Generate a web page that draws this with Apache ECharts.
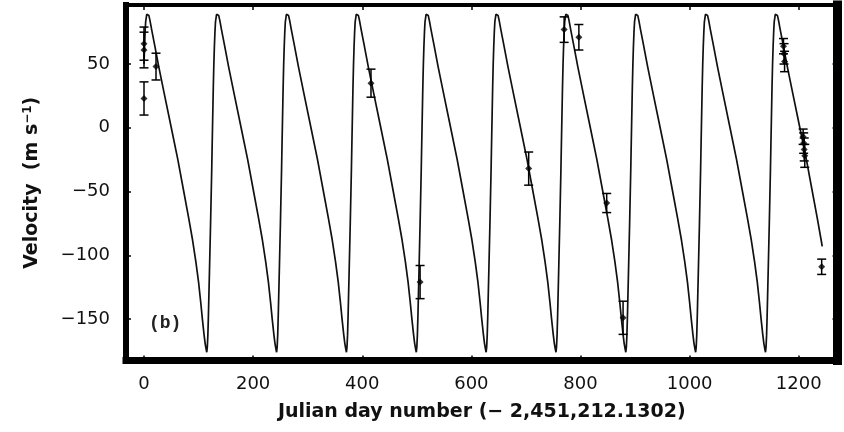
<!DOCTYPE html>
<html>
<head>
<meta charset="utf-8">
<script src="https://cdn.jsdelivr.net/npm/echarts@6/dist/echarts.min.js"></script>
<style>
  html, body { margin: 0; padding: 0; background: #fff; }
  #chart { width: 844px; height: 432px; }
</style>
</head>
<body>
<div id="chart"></div>
<script>
// one orbit of the fitted curve: days from peak, velocity
const shapeDays = [-19, -18, -17, -15, -13, -11, -10, -9, -8, -7, -6, -5, -4, -2,
  0, 2, 4, 7, 12, 20, 30, 43, 55, 65, 75, 82, 88, 93, 97, 100, 103, 105, 107, 108];
const shapeVel = [-172, -163, -148, -112, -75, -35, -12, 10, 32, 50, 64, 75, 83, 89,
  90, 88, 84, 77, 66, 48, 27, 0, -25, -48, -71, -88, -105, -121, -137, -150, -162, -169, -174, -176];
// day of each velocity maximum
const peakDays = [7, 135, 263, 391, 519, 647, 775, 903, 1031, 1159];
const curveStart = 0;
const curveEnd = [1243, -93];

// measurements with error bars
const obsDay = [0, 0, 0, 22, 416, 506, 705, 770, 797, 848, 878,
  1172, 1173, 1174, 1208, 1209, 1210, 1211, 1242];
const obsVel = [66, 61, 23, 48, 35, -121, -32, 77, 71, -59, -149,
  64, 58, 52, -7, -12, -17, -22, -109];
const obsErr = [13, 14, 13, 10.5, 11, 13, 13, 10, 10, 7.5, 13,
  6, 8, 8, 6, 8, 9, 9, 6];

const xTicks = [0, 200, 400, 600, 800, 1000, 1200];
const yTicks = [-150, -100, -50, 0, 50];

const curve = [];
peakDays.forEach(p => {
  shapeDays.forEach((d, i) => {
    const t = p + d;
    if (t >= curveStart && t < curveEnd[0]) curve.push([t, shapeVel[i]]);
  });
});
curve.push(curveEnd);

const obs = obsDay.map((d, i) => [d, obsVel[i], obsErr[i]]);

const font = '"DejaVu Sans", Verdana, sans-serif';
const fmt = v => (v < 0 ? '\u2212' + Math.abs(v) : String(v));
const chart = echarts.init(document.getElementById('chart'));

const xBase = {
  type: 'value', min: -33, max: 1271,
  splitLine: { show: false },
  axisTick: { inside: true, length: 5, lineStyle: { color: '#000', width: 1.5 }, customValues: xTicks }
};
const yBase = {
  type: 'value', min: -182.5, max: 96.3,
  splitLine: { show: false },
  axisTick: { inside: true, length: 5, lineStyle: { color: '#000', width: 1.5 }, customValues: yTicks }
};

chart.setOption({
  animation: false,
  backgroundColor: '#fff',
  grid: { left: 126, right: 6.5, top: 5, bottom: 71.5 },
  xAxis: [
    Object.assign({}, xBase, {
      position: 'bottom',
      axisLine: { onZero: false, lineStyle: { color: '#000', width: 7, cap: 'square' } },
      axisLabel: { customValues: xTicks, formatter: fmt, margin: 15, fontSize: 18, color: '#111', fontFamily: font },
      name: 'Julian day number (\u2212 2,451,212.1302)',
      nameLocation: 'middle', nameGap: 42,
      nameTextStyle: { fontSize: 19, fontWeight: 'bold', color: '#111', fontFamily: font }
    }),
    Object.assign({}, xBase, {
      position: 'top',
      axisLine: { onZero: false, lineStyle: { color: '#000', width: 4, cap: 'square' } },
      axisLabel: { show: false }
    })
  ],
  yAxis: [
    Object.assign({}, yBase, {
      position: 'left',
      axisLine: { show: true, onZero: false, lineStyle: { color: '#000', width: 6, cap: 'square' } },
      axisLabel: { customValues: yTicks, formatter: fmt, margin: 16, fontSize: 18, color: '#111', fontFamily: font },
      name: 'Velocity  (m s{sup|\u22121})',
      nameLocation: 'middle', nameGap: 84, nameRotate: 90,
      nameTextStyle: {
        fontSize: 19, fontWeight: 'bold', color: '#111', fontFamily: font,
        rich: { sup: { fontSize: 12, fontWeight: 'bold', fontFamily: font, color: '#111', verticalAlign: 'top', padding: [0, 0, 8, 0] } }
      }
    }),
    Object.assign({}, yBase, {
      position: 'right',
      axisLine: { show: true, onZero: false, lineStyle: { color: '#000', width: 9, cap: 'square' } },
      axisLabel: { show: false }
    })
  ],
  graphic: [{
    type: 'text', left: 149, top: 314,
    style: { text: '(b)', font: 'bold 18px "Liberation Mono", monospace', fill: '#222' }
  }],
  series: [
    {
      type: 'line', data: curve, showSymbol: false, smooth: false,
      lineStyle: { color: '#111', width: 1.7 }, z: 2
    },
    {
      type: 'custom', data: obs, z: 3,
      renderItem: (params, api) => {
        const x = api.value(0), y = api.value(1), e = api.value(2);
        const top = api.coord([x, y + e]);
        const bot = api.coord([x, y - e]);
        const hw = 4.5;
        const st = { stroke: '#000', lineWidth: 1.5 };
        return {
          type: 'group', children: [
            { type: 'line', shape: { x1: top[0], y1: top[1], x2: bot[0], y2: bot[1] }, style: st },
            { type: 'line', shape: { x1: top[0] - hw, y1: top[1], x2: top[0] + hw, y2: top[1] }, style: st },
            { type: 'line', shape: { x1: bot[0] - hw, y1: bot[1], x2: bot[0] + hw, y2: bot[1] }, style: st }
          ]
        };
      }
    },
    {
      type: 'scatter', data: obs.map(o => [o[0], o[1]]), symbol: 'diamond', symbolSize: 7,
      itemStyle: { color: '#000' }, z: 4
    }
  ]
});
</script>
</body>
</html>
